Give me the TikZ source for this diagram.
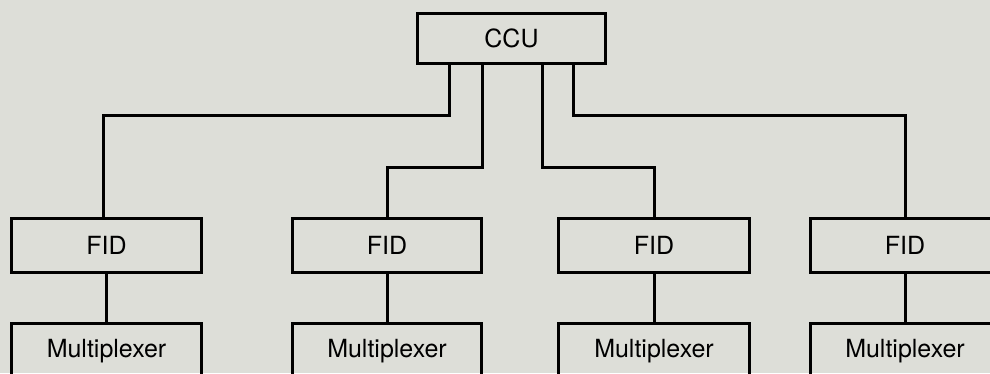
\documentclass[tikz,border=0pt]{standalone}
\usepackage{fontspec}
\setmainfont{TeX Gyre Heros}
\definecolor{bg}{RGB}{221,222,216}
\begin{document}
\begin{tikzpicture}[x=1pt,y=-1pt,
  box/.style={draw=black,line width=3pt,minimum height=#1,inner sep=0pt,
    font=\fontsize{25}{28}\selectfont,anchor=north west},
  wire/.style={draw=black,line width=3pt,line join=miter}]
\fill[bg] (0,0) rectangle (990,373);
\useasboundingbox (0,0) rectangle (990,373);
\node[box=50pt,minimum width=188pt] (ccu) at (416,12) {CCU};
\foreach \i/\x/\w in {1/10/190,2/291/189,3/557/191,4/809/189}{
  \node[box=54pt,minimum width=\w pt] (fid\i) at (\x,217) {FID};
  \node[box=56pt,minimum width=\w pt] (mux\i) at (\x,322) {\raisebox{2pt}{Multiplexer}};
  \draw[wire] (fid\i.south) -- (mux\i.north);
}
\coordinate (c1) at (449,62);
\coordinate (c2) at (482,62);
\coordinate (c3) at (542,62);
\coordinate (c4) at (573,62);
\draw[wire] (c1) |- (103,115) -- (103,217);
\draw[wire] (c2) |- (fid2.north |- 0,167) -- (fid2.north);
\draw[wire] (c3) |- (fid3.north |- 0,167) -- (fid3.north);
\draw[wire] (c4) |- (fid4.north |- 0,115) -- (fid4.north);
\end{tikzpicture}
\end{document}
